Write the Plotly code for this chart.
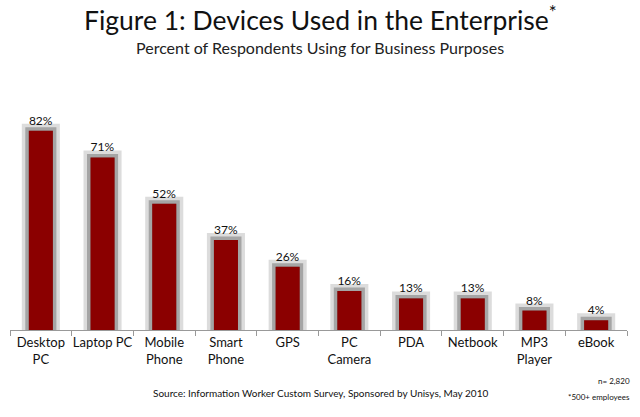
import plotly.graph_objects as go

categories = ["Desktop<br>PC", "Laptop PC", "Mobile<br>Phone", "Smart<br>Phone", "GPS",
              "PC<br>Camera", "PDA", "Netbook", "MP3<br>Player", "eBook"]
values = [82, 71, 52, 37, 26, 16, 13, 13, 8, 4]
labels = [f"{v}%" for v in values]

bar_color = "#8B0000"
FONT = "Lato"

fig = go.Figure()
# soft grey "glow" behind bars
fig.add_trace(go.Bar(x=categories, y=values, marker=dict(color="rgba(140,140,140,0.3)",
                     line=dict(color="rgba(140,140,140,0.3)", width=14)),
                     hoverinfo="skip", showlegend=False))
fig.add_trace(go.Bar(x=categories, y=values, marker=dict(color="rgba(110,110,110,0.5)",
                     line=dict(color="rgba(110,110,110,0.5)", width=7)),
                     hoverinfo="skip", showlegend=False))
fig.add_trace(go.Bar(x=categories, y=values, marker=dict(color=bar_color, line=dict(width=0)),
                     text=labels, textposition="outside", cliponaxis=False,
                     textfont=dict(family=FONT, size=12, color="#111"), showlegend=False))

fig.update_layout(
    width=640, height=417,
    margin=dict(l=10, r=13, t=87, b=87, autoexpand=False),
    barmode="overlay", bargap=0.61,
    plot_bgcolor="white", paper_bgcolor="white",
    font=dict(family=FONT, color="#111"),
    xaxis=dict(showline=True, linecolor="#999", linewidth=1, ticks="outside",
               tickson="boundaries", ticklen=5, tickcolor="#999", tickangle=0, automargin=False,
               tickfont=dict(family=FONT, size=13, color="#111"), showgrid=False),
    yaxis=dict(range=[0, 100], visible=False, showgrid=False),
    annotations=[
        dict(text="Figure 1: Devices Used in the Enterprise<sup>*</sup>", x=0.5, y=19,
             xref="paper", yref="paper", showarrow=False, font=dict(family=FONT, size=26.5, color="#111")),
        dict(text="Percent of Respondents Using for Business Purposes", x=0.5, y=48,
             xref="paper", yref="paper", showarrow=False, font=dict(family=FONT, size=16, color="#222")),
        dict(text="Source: Information Worker Custom Survey, Sponsored by Unisys, May 2010", x=0.5, y=393,
             xref="paper", yref="paper", showarrow=False, font=dict(family=FONT, size=10, color="#111")),
        dict(text="n= 2,820", x=632, y=381, xanchor="right",
             xref="paper", yref="paper", showarrow=False, font=dict(family=FONT, size=8, color="#111")),
        dict(text="*500+ employees", x=632, y=397, xanchor="right",
             xref="paper", yref="paper", showarrow=False, font=dict(family=FONT, size=8, color="#111")),
    ],
)

# convert pixel positions of annotations to paper coordinates
pw, ph = 640 - 10 - 13, 417 - 87 - 87
for a in fig.layout.annotations:
    px_x = a.x * 640 if a.x <= 1 else a.x
    a.x = (px_x - 10) / pw
    a.y = (417 - 87 - a.y) / ph
    a.yanchor = "middle"

fig.write_html("out.html", config={"displayModeBar": False},
               post_script="document.body.style.margin='0';")
